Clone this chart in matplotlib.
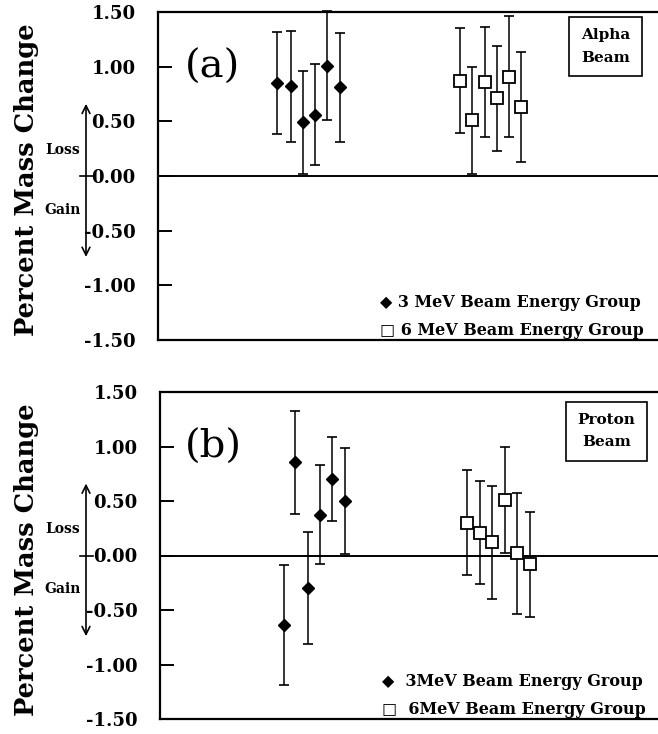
import matplotlib
matplotlib.use("Agg")
import matplotlib.pyplot as plt
from matplotlib.ticker import FixedLocator, FormatStrFormatter

plt.rcParams['axes.unicode_minus'] = False
SERIF = ['DejaVu Serif', 'DejaVu Sans']

# ---------------- data ----------------
yticks = [-1.5, -1.0, -0.5, 0.0, 0.5, 1.0, 1.5]

# panel (a) alpha beam
a3_x = [23.7, 26.5, 28.9, 31.3, 33.7, 36.3]
a3_y = [0.85, 0.82, 0.49, 0.56, 1.01, 0.81]
a3_err = [0.47, 0.51, 0.47, 0.46, 0.50, 0.50]
a6_x = [60.4, 62.7, 65.3, 67.7, 70.1, 72.6]
a6_y = [0.87, 0.51, 0.86, 0.71, 0.91, 0.63]
a6_err = [0.48, 0.49, 0.50, 0.48, 0.55, 0.50]

# panel (b) proton beam
b3_x = [24.8, 27.1, 29.8, 32.1, 34.5, 37.1]
b3_y = [-0.64, 0.855, -0.30, 0.375, 0.705, 0.50]
b3_err = [0.55, 0.47, 0.515, 0.455, 0.385, 0.485]
b6_x = [61.7, 64.3, 66.7, 69.3, 71.7, 74.3]
b6_y = [0.30, 0.21, 0.12, 0.51, 0.02, -0.08]
b6_err = [0.48, 0.47, 0.52, 0.49, 0.555, 0.48]

panels = [
    dict(tag='(a)', beam='Alpha\nBeam', x3=a3_x, y3=a3_y, e3=a3_err, x6=a6_x, y6=a6_y, e6=a6_err,
         leg3='\u25C6 3 MeV Beam Energy Group', leg6='\u25A1 6 MeV Beam Energy Group',
         box=(0.895, 0.895)),
    dict(tag='(b)', beam='Proton\nBeam', x3=b3_x, y3=b3_y, e3=b3_err, x6=b6_x, y6=b6_y, e6=b6_err,
         leg3='\u25C6  3MeV Beam Energy Group', leg6='\u25A1  6MeV Beam Energy Group',
         box=(0.897, 0.88)),
]

W, H = 658, 734
fig = plt.figure(figsize=(W / 100, H / 100), dpi=100)

# axes boxes in pixels: left, top, bottom
boxes = [(158, 12, 340), (160, 392, 719)]

for p, (left, top, bot) in zip(panels, boxes):
    ax = fig.add_axes([left / W, 1 - bot / H, (W - left) / W, (bot - top) / H])
    ax.set_xlim(0, 100)
    ax.set_ylim(-1.5, 1.5)
    ax.spines['right'].set_visible(False)
    for s in ['left', 'top', 'bottom']:
        ax.spines[s].set_linewidth(1.6)
    ax.yaxis.set_major_locator(FixedLocator(yticks))
    ax.yaxis.set_major_formatter(FormatStrFormatter('%.2f'))
    ax.set_xticks([])
    ax.tick_params(axis='y', direction='in', length=10, width=1.4, pad=16)
    for lab in ax.get_yticklabels():
        lab.set_fontfamily(SERIF)
        lab.set_fontweight('bold')
        lab.set_fontsize(13)

    ax.axhline(0, color='black', lw=1.4, zorder=1)

    for x, y, e, mk in [(p['x3'], p['y3'], p['e3'], 'D'), (p['x6'], p['y6'], p['e6'], 's')]:
        _, caps, bars = ax.errorbar(x, y, yerr=e, fmt='none', ecolor='black',
                                    elinewidth=1.1, capsize=3.5, capthick=1.2, zorder=2)
        for c in caps:
            c.set_clip_on(False)
        for b in bars:
            b.set_clip_on(False)
        if mk == 'D':
            ax.plot(x, y, linestyle='none', marker='D', ms=6.3,
                    mfc='black', mec='black', zorder=3)
        else:
            ax.plot(x, y, linestyle='none', marker='s', ms=8,
                    mfc='white', mec='black', mew=1.3, zorder=3)

    # panel tag
    ax.text(0.108, 0.83, p['tag'], transform=ax.transAxes, fontsize=29,
            family=SERIF, ha='center', va='center')
    # beam box
    ax.text(p['box'][0], p['box'][1], p['beam'], transform=ax.transAxes, fontsize=11,
            family=SERIF, fontweight='bold', ha='center', va='center',
            linespacing=1.75,
            bbox=dict(boxstyle='square,pad=0.75', fc='white', ec='black', lw=1.2))
    # legend text
    ax.text(0.445, 0.115, p['leg3'], transform=ax.transAxes, fontsize=11.5,
            family=SERIF, fontweight='bold', ha='left', va='center')
    ax.text(0.445, 0.03, p['leg6'], transform=ax.transAxes, fontsize=11.5,
            family=SERIF, fontweight='bold', ha='left', va='center')

    # Loss / Gain arrow
    tr = ax.get_yaxis_transform()
    axw = (W - left)
    xa = (86 - left) / axw
    ax.annotate('', xy=(xa, 0.66), xytext=(xa, -0.74), xycoords=tr, textcoords=tr,
                arrowprops=dict(arrowstyle='<->', lw=1.2, color='black',
                                shrinkA=0, shrinkB=0, mutation_scale=14),
                annotation_clip=False)
    ax.plot([(80 - left) / axw, (93 - left) / axw], [0, 0], transform=tr,
            color='black', lw=1.2, clip_on=False)
    ax.text((63 - left) / axw, 0.24, 'Loss', transform=tr, fontsize=10,
            family=SERIF, fontweight='bold', ha='center', va='center')
    ax.text((63 - left) / axw, -0.31, 'Gain', transform=tr, fontsize=10,
            family=SERIF, fontweight='bold', ha='center', va='center')

    # y label
    fig.text(27 / W, 1 - ((top + bot) / 2 + 4) / H, 'Percent Mass Change',
             rotation=90, fontsize=18.5, family=SERIF, fontweight='bold',
             ha='center', va='center')

fig.savefig('out.png', dpi=100)
